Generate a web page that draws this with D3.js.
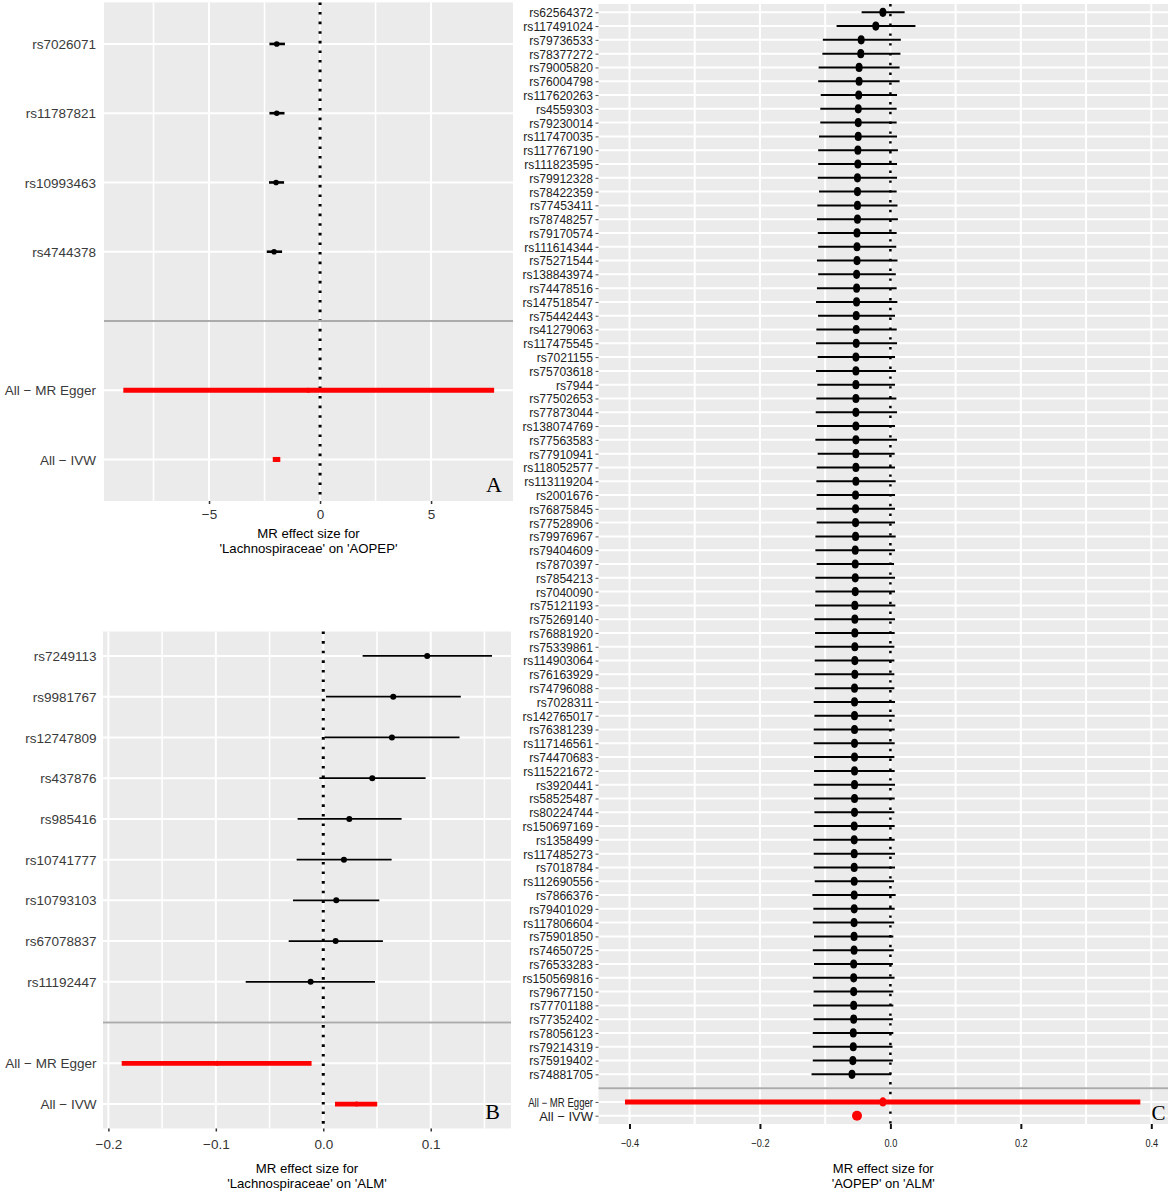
<!DOCTYPE html>
<html><head><meta charset="utf-8">
<script src="https://cdn.jsdelivr.net/npm/d3@7"></script>
<style>body{margin:0;background:#fff}</style>
</head><body>
<script>
// ---------------- DATA ----------------
const methods = ["All − MR Egger", "All − IVW"];

// Panel A: 'Lachnospiraceae' on 'AOPEP'
const snpsA = ["rs7026071","rs11787821","rs10993463","rs4744378"];
const betaA = [-1.95,-1.95,-1.98,-2.07];
const loA   = [-2.28,-2.28,-2.30,-2.40];
const hiA   = [-1.58,-1.60,-1.62,-1.71];
const sumBetaA = [-0.53,-1.96];
const sumLoA   = [-8.86,-2.13];
const sumHiA   = [7.84,-1.79];
const ticksA = [-5,0,5];
const minorA = [-7.5,-2.5,2.5];

// Panel B: 'Lachnospiraceae' on 'ALM'
const snpsB = ["rs7249113","rs9981767","rs12747809","rs437876","rs985416","rs10741777","rs10793103","rs67078837","rs11192447"];
const betaB = [0.0967,0.0651,0.0639,0.0456,0.0242,0.0192,0.0121,0.0115,-0.0118];
const loB   = [0.0366,0.0025,0.0012,-0.0037,-0.0239,-0.0248,-0.0282,-0.0322,-0.0722];
const hiB   = [0.1570,0.1280,0.1268,0.0952,0.0729,0.0636,0.0521,0.0555,0.0481];
const sumBetaB = [-0.099,0.031];
const sumLoB   = [-0.1876,0.0109];
const sumHiB   = [-0.0109,0.0502];
const ticksB = [-0.2,-0.1,0.0,0.1];
const minorB = [-0.15,-0.05,0.05,0.15];

// Panel C: 'AOPEP' on 'ALM'
const snpsC = ["rs62564372","rs117491024","rs79736533","rs78377272","rs79005820","rs76004798","rs117620263","rs4559303","rs79230014","rs117470035",
"rs117767190","rs111823595","rs79912328","rs78422359","rs77453411","rs78748257","rs79170574","rs111614344","rs75271544","rs138843974",
"rs74478516","rs147518547","rs75442443","rs41279063","rs117475545","rs7021155","rs75703618","rs7944","rs77502653","rs77873044",
"rs138074769","rs77563583","rs77910941","rs118052577","rs113119204","rs2001676","rs76875845","rs77528906","rs79976967","rs79404609",
"rs7870397","rs7854213","rs7040090","rs75121193","rs75269140","rs76881920","rs75339861","rs114903064","rs76163929","rs74796088",
"rs7028311","rs142765017","rs76381239","rs117146561","rs74470683","rs115221672","rs3920441","rs58525487","rs80224744","rs150697169",
"rs1358499","rs117485273","rs7018784","rs112690556","rs7866376","rs79401029","rs117806604","rs75901850","rs74650725","rs76533283",
"rs150569816","rs79677150","rs77701188","rs77352402","rs78056123","rs79214319","rs75919402","rs74881705"];
const betaC = [-0.0115,-0.0224,-0.0448,-0.0454,-0.0480,-0.0480,-0.0486,-0.0493,-0.0493,-0.0493,
-0.0499,-0.0499,-0.0505,-0.0505,-0.0505,-0.0505,-0.0512,-0.0512,-0.0512,-0.0518,
-0.0518,-0.0519,-0.0524,-0.0524,-0.0524,-0.0529,-0.0529,-0.0529,-0.0529,-0.0529,
-0.0529,-0.0529,-0.0529,-0.0529,-0.0529,-0.0534,-0.0534,-0.0534,-0.0534,-0.0539,
-0.0539,-0.0539,-0.0539,-0.0545,-0.0545,-0.0545,-0.0545,-0.0545,-0.0545,-0.0550,
-0.0550,-0.0550,-0.0550,-0.0550,-0.0550,-0.0550,-0.0550,-0.0550,-0.0550,-0.0555,
-0.0555,-0.0555,-0.0555,-0.0555,-0.0555,-0.0555,-0.0557,-0.0557,-0.0557,-0.0563,
-0.0563,-0.0563,-0.0563,-0.0563,-0.0569,-0.0569,-0.0576,-0.0589];
const loC = [-0.0441,-0.0825,-0.1036,-0.1043,-0.1100,-0.1107,-0.1068,-0.1075,-0.1075,-0.1094,
-0.1107,-0.1107,-0.1113,-0.1094,-0.1120,-0.1126,-0.1113,-0.1107,-0.1126,-0.1107,
-0.1126,-0.1140,-0.1109,-0.1135,-0.1140,-0.1115,-0.1140,-0.1120,-0.1135,-0.1145,
-0.1125,-0.1150,-0.1115,-0.1130,-0.1135,-0.1130,-0.1135,-0.1130,-0.1150,-0.1150,
-0.1130,-0.1150,-0.1150,-0.1155,-0.1165,-0.1155,-0.1160,-0.1160,-0.1160,-0.1160,
-0.1176,-0.1165,-0.1176,-0.1176,-0.1170,-0.1170,-0.1176,-0.1170,-0.1165,-0.1176,
-0.1181,-0.1176,-0.1176,-0.1160,-0.1196,-0.1181,-0.1190,-0.1171,-0.1190,-0.1171,
-0.1190,-0.1177,-0.1184,-0.1177,-0.1190,-0.1190,-0.1190,-0.1209];
const hiC = [0.0218,0.0384,0.0160,0.0154,0.0141,0.0141,0.0102,0.0096,0.0096,0.0102,
0.0115,0.0102,0.0102,0.0096,0.0109,0.0115,0.0096,0.0090,0.0109,0.0083,
0.0096,0.0107,0.0071,0.0097,0.0102,0.0071,0.0087,0.0071,0.0092,0.0102,
0.0071,0.0102,0.0066,0.0071,0.0081,0.0071,0.0071,0.0071,0.0081,0.0071,
0.0056,0.0071,0.0071,0.0076,0.0071,0.0066,0.0061,0.0061,0.0061,0.0061,
0.0071,0.0066,0.0066,0.0066,0.0061,0.0066,0.0071,0.0066,0.0061,0.0066,
0.0066,0.0071,0.0071,0.0056,0.0081,0.0066,0.0058,0.0045,0.0051,0.0038,
0.0064,0.0045,0.0045,0.0038,0.0045,0.0032,0.0038,0.0013];
const sumBetaC = [-0.0115,-0.0512];
const sumLoC   = [-0.4069,-0.0540];
const sumHiC   = [0.3832,-0.0484];
const ticksC = [-0.4,-0.2,0.0,0.2,0.4];
const minorC = [-0.3,-0.1,0.1,0.3];

// ---------------- DRAWING ----------------
const W = 1170, H = 1195;
const FONT = "'Liberation Sans', Arial, Helvetica, sans-serif";
const svg = d3.select("body").append("svg")
  .attr("width", W).attr("height", H)
  .style("font-family", FONT);
svg.append("rect").attr("width", W).attr("height", H).attr("fill", "#fff");

function forest(o) {
  const g = svg.append("g");
  const BLANK = "__blank__";
  const keys = o.snps.concat([BLANK], o.methods);
  const x = d3.scaleLinear().domain(o.xDomain).range([o.x0, o.x1]);
  const y = d3.scalePoint().domain(keys).range([o.y0, o.y1]).padding(0.6);

  // panel background
  g.append("rect").attr("x", o.x0).attr("y", o.y0)
    .attr("width", o.x1 - o.x0).attr("height", o.y1 - o.y0).attr("fill", "#EBEBEB");

  // minor vertical grid
  g.append("g").selectAll("line").data(o.minor).join("line")
    .attr("x1", d => x(d)).attr("x2", d => x(d)).attr("y1", o.y0).attr("y2", o.y1)
    .attr("stroke", "#fff").attr("stroke-width", o.minorW);
  // major vertical grid
  g.append("g").selectAll("line").data(o.ticks).join("line")
    .attr("x1", d => x(d)).attr("x2", d => x(d)).attr("y1", o.y0).attr("y2", o.y1)
    .attr("stroke", "#fff").attr("stroke-width", o.majorW);
  // horizontal row grid
  g.append("g").selectAll("line").data(keys).join("line")
    .attr("x1", o.x0).attr("x2", o.x1).attr("y1", d => y(d)).attr("y2", d => y(d))
    .attr("stroke", "#fff").attr("stroke-width", o.rowW);

  // dotted zero line
  g.append("line").attr("x1", x(0)).attr("x2", x(0)).attr("y1", o.y0).attr("y2", o.y1)
    .attr("stroke", "#000").attr("stroke-width", o.dotW)
    .attr("stroke-dasharray", o.dash);

  // separator
  g.append("line").attr("x1", o.x0).attr("x2", o.x1)
    .attr("y1", y(BLANK)).attr("y2", y(BLANK))
    .attr("stroke", "#ABABAB").attr("stroke-width", 2);

  // SNP error bars
  const rows = o.snps.map((s, i) => ({k: s, b: o.beta[i], lo: o.lo[i], hi: o.hi[i]}));
  g.append("g").selectAll("line").data(rows).join("line")
    .attr("x1", d => x(d.lo)).attr("x2", d => x(d.hi))
    .attr("y1", d => y(d.k)).attr("y2", d => y(d.k))
    .attr("stroke", "#000").attr("stroke-width", o.barW);
  g.append("g").selectAll("ellipse").data(rows).join("ellipse")
    .attr("cx", d => x(d.b)).attr("cy", d => y(d.k))
    .attr("rx", o.ptRx).attr("ry", o.ptRy).attr("fill", "#000");

  // summary rows
  const sums = o.methods.map((m, i) => ({k: m, b: o.sumBeta[i], lo: o.sumLo[i], hi: o.sumHi[i], i}));
  g.append("g").selectAll("line").data(sums).join("line")
    .attr("x1", d => x(d.lo)).attr("x2", d => x(d.hi))
    .attr("y1", d => y(d.k)).attr("y2", d => y(d.k))
    .attr("stroke", "#FF0000").attr("stroke-width", o.sumW);
  g.append("g").selectAll("ellipse").data(sums).join("ellipse")
    .attr("cx", d => x(d.b)).attr("cy", d => y(d.k))
    .attr("rx", d => o.sumPt[d.i][0]).attr("ry", d => o.sumPt[d.i][1]).attr("fill", "#FF0000");

  // x axis
  const fmt = o.fmt;
  const xa = g.append("g").attr("transform", `translate(0,${o.y1})`)
    .call(d3.axisBottom(x).tickValues(o.ticks).tickFormat(fmt)
      .tickSize(o.xTickLen).tickSizeOuter(0).tickPadding(o.xTickPad));
  xa.select(".domain").remove();
  xa.selectAll(".tick line").attr("stroke", o.xTickColor).attr("stroke-width", o.xTickW);
  xa.selectAll(".tick text").attr("fill", o.xTextColor)
    .style("font-size", o.xFont + "px").style("font-family", FONT)
    .attr("transform", `scale(${o.xSx},1)`);

  // y axis
  const ya = g.append("g").attr("transform", `translate(${o.x0},0)`)
    .call(d3.axisLeft(y).tickSize(o.yTickLen).tickPadding(o.yTickPad)
      .tickFormat(d => d === BLANK ? "" : d));
  ya.select(".domain").remove();
  ya.selectAll(".tick line").attr("stroke", "#555").attr("stroke-width", 1)
    .attr("display", d => (d === BLANK || o.yTickLen === 0) ? "none" : null);
  ya.selectAll(".tick text").each(function(d) {
    const t = d3.select(this);
    const isEgger = d === o.methods[0];
    const isSum = o.methods.includes(d);
    const sx = isEgger ? o.eggerSx : (isSum ? 1 : o.ySx);
    const fs = isEgger ? o.eggerFont : (isSum ? o.sumFont : o.yFont);
    const x0 = -(o.yTickLen + o.yTickPad);
    t.attr("x", 0).attr("dy", "0.34em")
      .attr("transform", `translate(${x0},0) scale(${sx},1)`)
      .attr("fill", o.yTextColor)
      .style("font-size", fs + "px").style("font-family", FONT);
  });

  // axis title
  const cx = (o.x0 + o.x1) / 2;
  g.append("text").attr("x", cx).attr("y", o.t1).attr("text-anchor", "middle")
    .style("font-size", o.titleFont + "px").attr("fill", "#000").text("MR effect size for");
  g.append("text").attr("x", cx).attr("y", o.t2).attr("text-anchor", "middle")
    .style("font-size", o.titleFont + "px").attr("fill", "#000").text(o.title2);

  // panel letter
  g.append("text").attr("x", o.letterX).attr("y", o.letterY).attr("text-anchor", "middle")
    .style("font-family", "'Liberation Serif', 'Times New Roman', serif")
    .style("font-size", o.letterFont + "px").attr("fill", "#000").text(o.letter);
}

const fmtInt = d => d3.format("d")(d);
const fmt1 = d => d3.format(".1f")(d);

forest({
  snps: snpsA, beta: betaA, lo: loA, hi: hiA, methods,
  sumBeta: sumBetaA, sumLo: sumLoA, sumHi: sumHiA,
  ticks: ticksA, minor: minorA, fmt: fmtInt,
  x0: 104, x1: 513, y0: 2.4, y1: 501, xDomain: [-9.73, 8.69],
  majorW: 2, minorW: 1.6, rowW: 2,
  dotW: 3, dash: "2.6,7",
  barW: 2.6, ptRx: 2.8, ptRy: 2.8, sumW: 5, sumPt: [[2.5,2.5],[2.5,2.5]],
  xTickLen: 3, xTickPad: 5.7, xTickColor: "#333", xTickW: 1.5, xTextColor: "#333", xFont: 13.5, xSx: 1,
  yTickLen: 0, yTickPad: 8, yTextColor: "#3a3a3a", yFont: 13.5, ySx: 1,
  eggerFont: 13.5, eggerSx: 1, sumFont: 13.5,
  titleFont: 13.2, t1: 538, t2: 552.5, title2: "'Lachnospiraceae' on 'AOPEP'",
  letter: "A", letterX: 494, letterY: 492, letterFont: 22
});

forest({
  snps: snpsB, beta: betaB, lo: loB, hi: hiB, methods,
  sumBeta: sumBetaB, sumLo: sumLoB, sumHi: sumHiB,
  ticks: ticksB, minor: minorB, fmt: fmt1,
  x0: 103, x1: 511, y0: 631.5, y1: 1128.5, xDomain: [-0.205, 0.1747],
  majorW: 2, minorW: 1.6, rowW: 2,
  dotW: 3, dash: "2.6,7",
  barW: 1.7, ptRx: 3, ptRy: 3, sumW: 4.8, sumPt: [[2.5,2.5],[2.5,2.5]],
  xTickLen: 3, xTickPad: 8.4, xTickColor: "#333", xTickW: 1.5, xTextColor: "#333", xFont: 13.5, xSx: 1,
  yTickLen: 0, yTickPad: 6.5, yTextColor: "#3a3a3a", yFont: 13.5, ySx: 1,
  eggerFont: 13.5, eggerSx: 1, sumFont: 13.5,
  titleFont: 13.2, t1: 1172.5, t2: 1187.5, title2: "'Lachnospiraceae' on 'ALM'",
  letter: "B", letterX: 492.5, letterY: 1119, letterFont: 22
});

forest({
  snps: snpsC, beta: betaC, lo: loC, hi: hiC, methods,
  sumBeta: sumBetaC, sumLo: sumLoC, sumHi: sumHiC,
  ticks: ticksC, minor: minorC, fmt: fmt1,
  x0: 598.5, x1: 1168, y0: 4, y1: 1124, xDomain: [-0.4475, 0.4256],
  majorW: 2, minorW: 2, rowW: 2,
  dotW: 2.5, dash: "2.4,7.4",
  barW: 2, ptRx: 3.5, ptRy: 4.6, sumW: 5, sumPt: [[3.7,4.6],[5,5]],
  xTickLen: 5, xTickPad: 9.8, xTickColor: "#111", xTickW: 2, xTextColor: "#222", xFont: 11.5, xSx: 0.8,
  yTickLen: 3, yTickPad: 2.5, yTextColor: "#222", yFont: 13, ySx: 0.93,
  eggerFont: 12, eggerSx: 0.8, sumFont: 13,
  titleFont: 13, t1: 1172.5, t2: 1187.5, title2: "'AOPEP' on 'ALM'",
  letter: "C", letterX: 1158.5, letterY: 1120, letterFont: 21
});
</script>
</body></html>
